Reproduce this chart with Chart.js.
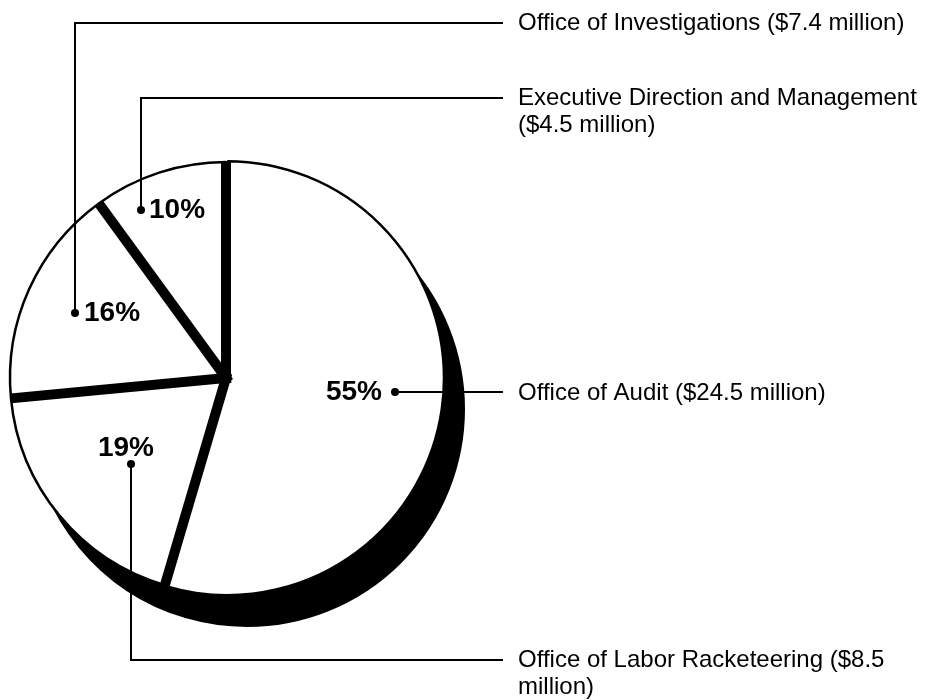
<!DOCTYPE html>
<html>
<head>
<meta charset="utf-8">
<script src="https://cdn.jsdelivr.net/npm/chart.js@4/dist/chart.umd.min.js"></script>
<style>
html,body{margin:0;padding:0;background:#fff;}
</style>
</head>
<body>
<canvas id="budget" width="936" height="700"></canvas>
<script>
const categories = ['Office of Audit','Office of Labor Racketeering','Office of Investigations','Executive Direction and Management'];
const amounts = [24.5, 8.5, 7.4, 4.5];          // $ million
const percentLabels = ['55%','19%','16%','10%'];

// callout layout, one per slice (pixels)
const callouts = [
  {pct:{x:382,y:392,align:'right'},  dot:{x:395,y:392}, runY:392, textY:393},
  {pct:{x:126,y:448,align:'center'}, dot:{x:131,y:464}, runY:660, textY:660},
  {pct:{x:84, y:313,align:'left'},   dot:{x:75, y:313}, runY:23,  textY:23},
  {pct:{x:149,y:210,align:'left'},   dot:{x:141,y:210}, runY:98,  textY:98}
];
const LINE_END = 503, TEXT_X = 518, TEXT_W = 410, LINE_H = 27;
const FONT = "'Liberation Sans', Arial, sans-serif";

// black drop shadow under the pie
const pieShadow = {
  id:'pieShadow',
  beforeDatasetsDraw(chart){
    const ctx = chart.ctx;
    ctx.save();
    ctx.fillStyle = '#000';
    ctx.strokeStyle = '#000';
    ctx.lineWidth = 2;
    chart.getDatasetMeta(0).data.forEach(arc=>{
      const p = arc.getProps(['x','y','startAngle','endAngle','outerRadius']);
      const cx = p.x + 21, cy = p.y + 31;
      ctx.beginPath();
      ctx.moveTo(cx,cy);
      ctx.arc(cx,cy,p.outerRadius+1,p.startAngle,p.endAngle);
      ctx.closePath();
      ctx.fill(); ctx.stroke();
    });
    ctx.restore();
  }
};

// thick black bars between slices
const separators = {
  id:'separators',
  afterDatasetsDraw(chart){
    const ctx = chart.ctx;
    ctx.save();
    ctx.strokeStyle = '#000';
    ctx.lineWidth = 10;
    ctx.lineCap = 'butt';
    chart.getDatasetMeta(0).data.forEach(arc=>{
      const p = arc.getProps(['x','y','startAngle','outerRadius']);
      const c = Math.cos(p.startAngle), s = Math.sin(p.startAngle);
      ctx.beginPath();
      ctx.moveTo(p.x - c*5, p.y - s*5);
      ctx.lineTo(p.x + c*p.outerRadius, p.y + s*p.outerRadius);
      ctx.stroke();
    });
    ctx.restore();
  }
};

function wrap(ctx, text, maxW){
  const words = text.split(' '), lines = [];
  let cur = '';
  words.forEach(w=>{
    const t = cur ? cur + ' ' + w : w;
    if (ctx.measureText(t).width > maxW && cur){ lines.push(cur); cur = w; }
    else cur = t;
  });
  lines.push(cur);
  return lines;
}

// percent labels, leader lines and category text
const calloutPlugin = {
  id:'callouts',
  afterDraw(chart){
    const ctx = chart.ctx;
    ctx.save();
    ctx.fillStyle = '#000';
    ctx.strokeStyle = '#000';
    ctx.lineWidth = 2;
    callouts.forEach((c,i)=>{
      ctx.beginPath();
      ctx.moveTo(c.dot.x, c.dot.y);
      if (c.runY !== c.dot.y) ctx.lineTo(c.dot.x, c.runY);
      ctx.lineTo(LINE_END, c.runY);
      ctx.stroke();
      ctx.beginPath();
      ctx.arc(c.dot.x, c.dot.y, 4, 0, Math.PI*2);
      ctx.fill();

      ctx.font = 'bold 28px ' + FONT;
      ctx.textAlign = c.pct.align;
      ctx.textBaseline = 'middle';
      ctx.fillText(percentLabels[i], c.pct.x, c.pct.y);

      ctx.font = '24px ' + FONT;
      ctx.textAlign = 'left';
      const lines = wrap(ctx, categories[i] + ' ($' + amounts[i] + ' million)', TEXT_W);
      lines.forEach((ln,k)=>ctx.fillText(ln, TEXT_X, c.textY + k*LINE_H));
    });
    ctx.restore();
  }
};

new Chart(document.getElementById('budget'),{
  type:'pie',
  data:{
    labels:categories,
    datasets:[{
      data:amounts,
      backgroundColor:'#fff',
      borderColor:'#000',
      borderWidth:2.5,
      offset:[4,0,0,0]
    }]
  },
  options:{
    responsive:false,
    animation:false,
    radius:216,
    layout:{padding:{left:0,right:484,top:56,bottom:0}},
    plugins:{legend:{display:false},tooltip:{enabled:false}}
  },
  plugins:[pieShadow,separators,calloutPlugin]
});
</script>
</body>
</html>
